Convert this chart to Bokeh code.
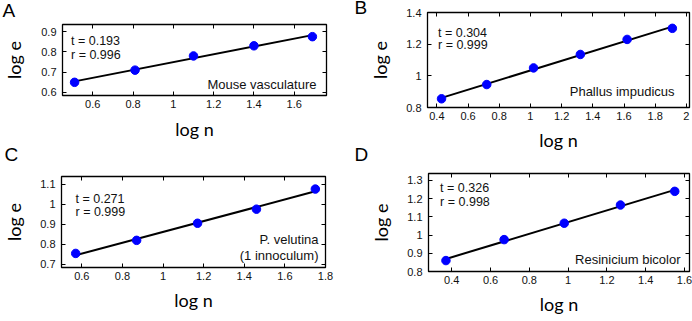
import numpy as np
from bokeh.plotting import figure
from bokeh.models import Range1d, FixedTicker, CustomJSTickFormatter, LinearAxis, Label
from bokeh.layouts import column, row
from bokeh.embed import file_html
from bokeh.resources import INLINE

# ---------------- data ----------------
# Panel A: Mouse vasculature
a_logn = [0.51, 0.81, 1.10, 1.40, 1.69]
a_loge = [0.65, 0.71, 0.78, 0.83, 0.875]
a_xticks = [0.6, 0.8, 1, 1.2, 1.4, 1.6]
a_xlabels = ["0.6", "0.8", "1", "1.2", "1.4", "1.6"]
a_yticks = [0.6, 0.7, 0.8, 0.9]
a_ylabels = ["0.6", "0.7", "0.8", "0.9"]
a_stats = ["t = 0.193", "r = 0.996"]
a_name = ["Mouse vasculature"]

# Panel B: Phallus impudicus
b_logn = [0.43, 0.72, 1.02, 1.32, 1.62, 1.91]
b_loge = [0.855, 0.945, 1.05, 1.135, 1.23, 1.30]
b_xticks = [0.4, 0.6, 0.8, 1, 1.2, 1.4, 1.6, 1.8, 2]
b_xlabels = ["0.4", "0.6", "0.8", "1", "1.2", "1.4", "1.6", "1.8", "2"]
b_yticks = [0.8, 1, 1.2, 1.4]
b_ylabels = ["0.8", "1", "1.2", "1.4"]
b_stats = ["t = 0.304", "r = 0.999"]
b_name = ["Phallus impudicus"]

# Panel C: P. velutina (1 innoculum)
c_logn = [0.57, 0.87, 1.17, 1.46, 1.75]
c_loge = [0.755, 0.82, 0.905, 0.975, 1.075]
c_xticks = [0.6, 0.8, 1, 1.2, 1.4, 1.6, 1.8]
c_xlabels = ["0.6", "0.8", "1", "1.2", "1.4", "1.6", "1.8"]
c_yticks = [0.7, 0.8, 0.9, 1, 1.1]
c_ylabels = ["0.7", "0.8", "0.9", "1", "1.1"]
c_stats = ["t = 0.271", "r = 0.999"]
c_name = ["P. velutina", "(1 innoculum)"]

# Panel D: Resinicium bicolor
d_logn = [0.37, 0.67, 0.98, 1.27, 1.55]
d_loge = [0.86, 0.975, 1.065, 1.165, 1.24]
d_xticks = [0.4, 0.6, 0.8, 1, 1.2, 1.4, 1.6]
d_xlabels = ["0.4", "0.6", "0.8", "1", "1.2", "1.4", "1.6"]
d_yticks = [0.8, 0.9, 1, 1.1, 1.2, 1.3]
d_ylabels = ["0.8", "0.9", "1", "1.1", "1.2", "1.3"]
d_stats = ["t = 0.326", "r = 0.998"]
d_name = ["Resinicium bicolor"]

TICK_FONT = "Liberation Sans"
TEXT_FONT = "Liberation Sans"
TITLE_FONT = "Lato"


def fmt(tks, lbls):
    return CustomJSTickFormatter(args=dict(tk=tks, lb=lbls), code="""
        for (let i = 0; i < tk.length; i++) {
            if (Math.abs(tk[i] - tick) < 1e-9) return lb[i];
        }
        return '';
    """)


def blank():
    return CustomJSTickFormatter(code="return '';")


def panel(letter, xs, ys, xticks, xlabels, yticks, ylabels, stats, names,
          xr, yr, geo, lay):
    w, h, bl, br, bt, bb = geo
    p = figure(width=w, height=h,
               min_border_left=bl, min_border_right=br,
               min_border_top=bt, min_border_bottom=bb,
               x_range=Range1d(*xr), y_range=Range1d(*yr),
               title=letter,
               output_backend="svg", toolbar_location=None, tools="",
               background_fill_color="white", border_fill_color=None)
    p.xgrid.visible = False
    p.ygrid.visible = False
    p.outline_line_color = "black"
    p.outline_line_width = 1.3

    # panel letter as the plot title
    t_off, t_stand = lay["letter"]
    p.title.text_font = "Liberation Sans"
    p.title.text_font_size = "19px"
    p.title.text_font_style = "normal"
    p.title.text_color = "black"
    p.title.align = "left"
    p.title.offset = t_off
    p.title.standoff = t_stand
    p.title.vertical_align = "bottom"

    for ax, tks, lbls in ((p.xaxis[0], xticks, xlabels), (p.yaxis[0], yticks, ylabels)):
        ax.ticker = FixedTicker(ticks=tks)
        ax.formatter = fmt(tks, lbls)
        ax.axis_line_color = None
        ax.major_tick_in = 4
        ax.major_tick_out = 0
        ax.minor_tick_in = 0
        ax.minor_tick_out = 0
        ax.major_tick_line_color = "black"
        ax.major_label_text_font = TICK_FONT
        ax.major_label_text_font_size = "11px"
        ax.major_label_text_color = "#111111"
        ax.axis_label_text_font = TITLE_FONT
        ax.axis_label_text_font_size = "18px"
        ax.axis_label_text_font_style = "normal"
        ax.axis_label_text_color = "black"
    p.xaxis[0].major_label_standoff = 4
    p.yaxis[0].major_label_standoff = 6
    p.xaxis[0].axis_label = "log n"
    p.yaxis[0].axis_label = "log e"
    p.xaxis[0].axis_label_standoff = lay["xstand"]
    p.yaxis[0].axis_label_standoff = lay["ystand"]

    for side, tks in (("right", yticks), ("above", xticks)):
        ax = LinearAxis(ticker=FixedTicker(ticks=tks), formatter=blank(),
                        axis_line_color=None, major_tick_in=4, major_tick_out=0,
                        minor_tick_in=0, minor_tick_out=0,
                        major_label_text_font_size="0px", major_label_standoff=0,
                        major_tick_line_color="black")
        p.add_layout(ax, side)

    # fitted line
    k, c = np.polyfit(xs, ys, 1)
    lx = [xs[0], xs[-1]]
    ly = [k * xs[0] + c, k * xs[-1] + c]
    p.line(lx, ly, line_color="black", line_width=2)
    p.scatter(xs, ys, size=8.5, fill_color="#0000ff", line_color="#0000ff")

    def lab(x, y, text, **kw):
        opts = dict(x=x, y=y, x_units="screen", y_units="screen", text=text)
        opts.update(kw)
        p.add_layout(Label(**opts))

    # stats
    sx, sy1, sy2 = lay["stats"]
    lab(sx, sy1, stats[0], text_font=TEXT_FONT, text_font_size="12.5px",
        text_baseline="alphabetic", text_align="left", text_color="#111111")
    lab(sx, sy2, stats[1], text_font=TEXT_FONT, text_font_size="12.5px",
        text_baseline="alphabetic", text_align="left", text_color="#111111")
    # species name(s)
    rx, rys = lay["name"]
    for t, yy in zip(names, rys):
        lab(rx, yy, t, text_font=TEXT_FONT, text_font_size="13px",
            text_baseline="alphabetic", text_align="right", text_color="#111111")
    p.margin = lay["margin"]
    return p


# geo = (width, height, border_left, border_right, border_top, border_bottom)
pa = panel("A", a_logn, a_loge, a_xticks, a_xlabels, a_yticks, a_ylabels, a_stats, a_name,
           (0.45, 1.76), (0.585, 0.935), (346, 191, 61, 20, 60, 60),
           dict(letter=(-60, 8), xstand=7, ystand=13, margin=(-36, 0, -7, 0),
                stats=(8.5, 54.6, 40.6), name=(254, [11.5])))
pb = panel("B", b_logn, b_loge, b_xticks, b_xlabels, b_yticks, b_ylabels, b_stats, b_name,
           (0.34, 2.02), (0.8, 1.4), (346, 215, 81, 3, 60, 60),
           dict(letter=(-73, -11), xstand=6, ystand=12, margin=(-48, 0, -19, 0),
                stats=(10.5, 75, 62.5), name=(247, [16])))
pc = panel("C", c_logn, c_loge, c_xticks, c_xlabels, c_yticks, c_ylabels, c_stats, c_name,
           (0.5, 1.8), (0.685, 1.1375), (346, 201, 59, 21, 60, 50),
           dict(letter=(-57, 24), xstand=6, ystand=12, margin=(-32, 0, 4, 0),
                stats=(14, 68.4, 55.2), name=(257, [28.3, 11.6])))
pd_ = panel("D", d_logn, d_loge, d_xticks, d_xlabels, d_yticks, d_ylabels, d_stats, d_name,
            (0.28, 1.626), (0.8, 1.338), (346, 208, 82, 3, 60, 44),
            dict(letter=(-74, 18), xstand=6, ystand=12, margin=(-35, 0, 0, 0),
                 stats=(11.6, 84, 69.5), name=(252, [12.4])))

layout = column(row(pa, pb), row(pc, pd_))
open("out.html", "w").write(file_html(layout, INLINE))
